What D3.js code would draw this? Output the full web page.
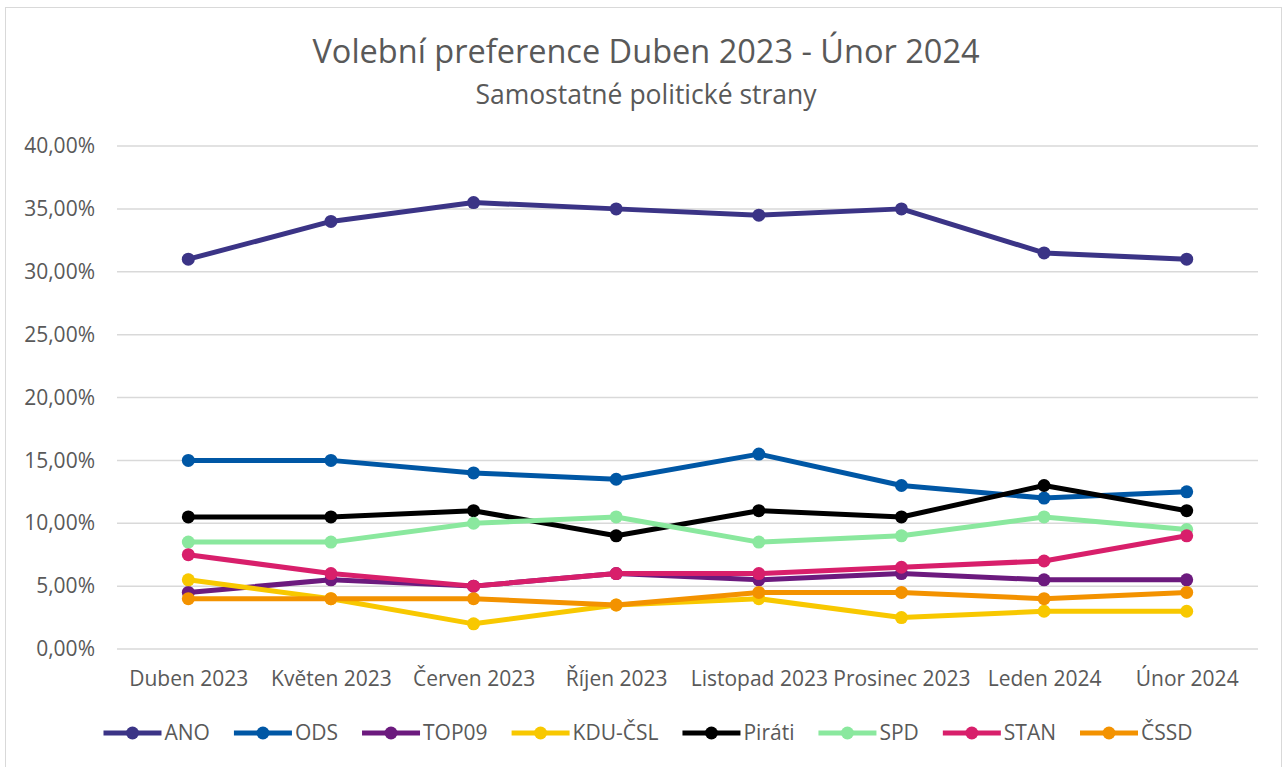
<!DOCTYPE html>
<meta charset="utf-8">
<style>
  body { margin: 0; background: #fff; }
  svg { display: block; }
  text { font-family: "Open Sans", sans-serif; fill: #595959; }
  .title { font-size: 32.5px; }
  .subtitle { font-size: 26.5px; }
  .tick text { font-size: 21px; }
  .legend text { font-size: 21px; }
</style>
<body>
</body>
<script src="https://cdn.jsdelivr.net/npm/d3@7"></script>
<script>
  const months = ['Duben 2023', 'Květen 2023', 'Červen 2023', 'Říjen 2023',
                  'Listopad 2023', 'Prosinec 2023', 'Leden 2024', 'Únor 2024'];
  const parties = ['ANO', 'ODS', 'TOP09', 'KDU-ČSL', 'Piráti', 'SPD', 'STAN', 'ČSSD'];
  const colors = ['#3b3486', '#0057a5', '#6c1a7e', '#f8c800', '#000000', '#8ae89e', '#d81f6b', '#f39200'];

  // values in percent
  const ano    = [31, 34, 35.5, 35, 34.5, 35, 31.5, 31];
  const ods    = [15, 15, 14, 13.5, 15.5, 13, 12, 12.5];
  const top09  = [4.5, 5.5, 5, 6, 5.5, 6, 5.5, 5.5];
  const kdu    = [5.5, 4, 2, 3.5, 4, 2.5, 3, 3];
  const pirati = [10.5, 10.5, 11, 9, 11, 10.5, 13, 11];
  const spd    = [8.5, 8.5, 10, 10.5, 8.5, 9, 10.5, 9.5];
  const stan   = [7.5, 6, 5, 6, 6, 6.5, 7, 9];
  const cssd   = [4, 4, 4, 3.5, 4.5, 4.5, 4, 4.5];
  const yTicks = [0, 5, 10, 15, 20, 25, 30, 35, 40];

  const series = [ano, ods, top09, kdu, pirati, spd, stan, cssd]
    .map((values, i) => ({name: parties[i], color: colors[i], values}));

  const w = 1284, h = 767;
  const svg = d3.select('body').append('svg').attr('width', w).attr('height', h);

  // chart frame
  svg.append('rect')
    .attr('x', 5.5).attr('y', 7.5).attr('width', w - 8).attr('height', h - 6)
    .attr('fill', 'white').attr('stroke', '#d9d9d9');

  svg.append('text').attr('class', 'title')
    .attr('x', 646).attr('y', 63).attr('text-anchor', 'middle')
    .text('Volební preference Duben 2023 - Únor 2024');
  svg.append('text').attr('class', 'subtitle')
    .attr('x', 646).attr('y', 104).attr('text-anchor', 'middle')
    .text('Samostatné politické strany');

  const x = d3.scalePoint().domain(months).range([117, 1258]).padding(0.5);
  const y = d3.scaleLinear().domain([0, 40]).range([649, 146]);

  // gridlines
  svg.append('g')
    .selectAll('line')
    .data(yTicks)
    .join('line')
    .attr('x1', 117).attr('x2', 1258)
    .attr('y1', d => y(d)).attr('y2', d => y(d))
    .attr('stroke', '#d9d9d9').attr('stroke-width', 1.5);

  const fmt = d => d3.format('.2f')(d).replace('.', ',') + '%';

  svg.append('g')
    .attr('transform', 'translate(105,0)')
    .call(d3.axisLeft(y).tickValues(yTicks).tickFormat(fmt).tickSize(0).tickPadding(10))
    .call(g => g.select('.domain').remove());

  svg.append('g')
    .attr('transform', 'translate(0,660)')
    .call(d3.axisBottom(x).tickSize(0).tickPadding(11))
    .call(g => g.select('.domain').remove());

  d3.selectAll('.tick text').attr('fill', '#595959');

  const line = d3.line().x((d, i) => x(months[i])).y(d => y(d));

  const sg = svg.append('g').selectAll('g')
    .data(series)
    .join('g');

  sg.append('path')
    .attr('d', d => line(d.values))
    .attr('fill', 'none')
    .attr('stroke', d => d.color)
    .attr('stroke-width', 5)
    .attr('stroke-linejoin', 'round');

  sg.selectAll('circle')
    .data(d => d.values.map(v => ({v, color: d.color})))
    .join('circle')
    .attr('cx', (d, i) => x(months[i]))
    .attr('cy', d => y(d.v))
    .attr('r', 6.5)
    .attr('fill', d => d.color);

  // legend
  const legend = svg.append('g').attr('class', 'legend');
  const items = legend.selectAll('g')
    .data(series)
    .join('g');
  items.append('line')
    .attr('x1', 0).attr('x2', 58).attr('y1', 0).attr('y2', 0)
    .attr('stroke', d => d.color).attr('stroke-width', 5);
  items.append('circle')
    .attr('cx', 29).attr('cy', 0).attr('r', 6.5)
    .attr('fill', d => d.color);
  items.append('text')
    .attr('x', 61).attr('dy', '0.35em')
    .text(d => d.name);

  let lx = 0;
  const offsets = [];
  items.each(function () {
    offsets.push(lx);
    const tw = d3.select(this).select('text').node().getComputedTextLength();
    lx += 61 + tw + 24;
  });
  const total = lx - 24;
  const start = 648 - total / 2;
  items.attr('transform', (d, i) => `translate(${start + offsets[i]},733)`);
</script>
